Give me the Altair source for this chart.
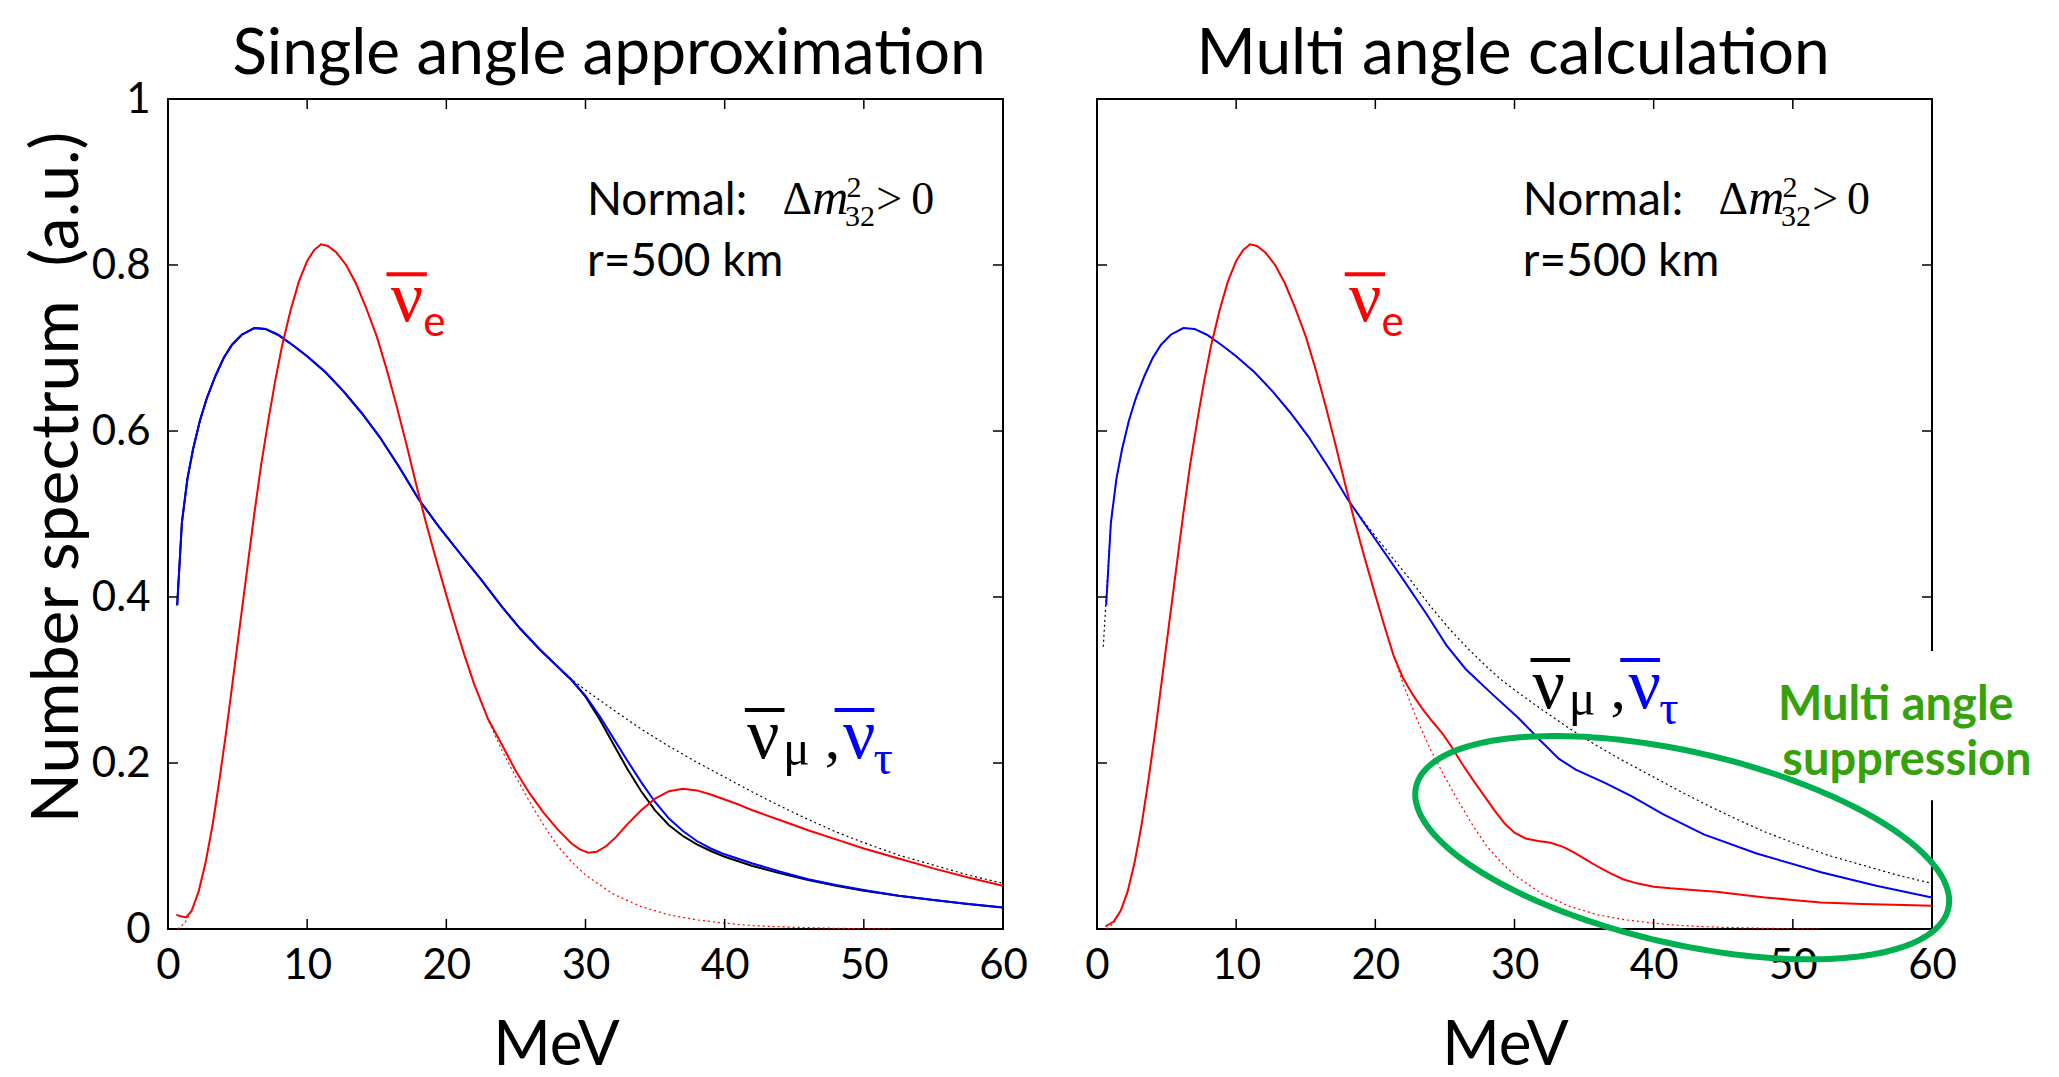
import math
import altair as alt
import pandas as pd

# ---------------- spectra ----------------
# original (un-oscillated) anti-nu_e spectrum, red dotted, same in both panels
RED0_E = [0.7, 1.2, 1.7, 2.2, 2.7, 3.2, 3.7, 4.2, 4.7, 5.2, 5.7, 6.2, 6.7, 7.2, 7.7,
          8.2, 8.8, 9.4, 10.0, 10.5, 11.0, 11.5, 12.1, 12.8, 13.5, 14.2, 15.0, 15.7,
          16.4, 17.1, 17.8, 18.5, 19.2, 19.9, 20.6, 21.3, 22.0, 23.0, 24.0, 25.0,
          26.0, 27.0, 28.0, 29.0, 30.0, 32.0, 34.0, 36.0, 38.0, 40.0, 42.0, 45.0,
          48.0, 52.0]
RED0_V = [0.0, 0.007, 0.022, 0.045, 0.08, 0.125, 0.18, 0.24, 0.305, 0.37, 0.435,
          0.5, 0.56, 0.612, 0.66, 0.703, 0.745, 0.78, 0.805, 0.818, 0.825, 0.823,
          0.815, 0.8, 0.778, 0.75, 0.714, 0.675, 0.632, 0.586, 0.538, 0.492, 0.449,
          0.408, 0.368, 0.33, 0.295, 0.252, 0.215, 0.183, 0.153, 0.125, 0.1, 0.081,
          0.065, 0.042, 0.027, 0.017, 0.011, 0.007, 0.004, 0.002, 0.0008, 0.0]

# original anti-nu_x spectrum, black dotted
BLACK0_E = [0.66, 1.0, 1.4, 1.8, 2.3, 2.8, 3.4, 4.0, 4.6, 5.3, 6.2, 7.0, 7.9, 9.0,
            10.0, 11.3, 12.6, 13.9, 15.2, 16.6, 18.0, 19.5, 21.1, 22.5, 24.0, 25.3,
            26.7, 28.0, 29.0, 30.0, 32.0, 34.0, 36.0, 38.0, 40.0, 42.0, 44.0, 46.0,
            48.0, 50.0, 52.5, 55.0, 57.5, 60.0]
BLACK0_V = [0.39, 0.49, 0.543, 0.578, 0.613, 0.64, 0.666, 0.688, 0.704, 0.716,
            0.724, 0.723, 0.716, 0.703, 0.69, 0.671, 0.648, 0.622, 0.593, 0.557,
            0.518, 0.484, 0.45, 0.421, 0.388, 0.362, 0.337, 0.316, 0.301, 0.288,
            0.264, 0.241, 0.22, 0.201, 0.183, 0.165, 0.148, 0.132, 0.117, 0.104,
            0.089, 0.077, 0.065, 0.055]

# multi-angle panel black dotted starts a little lower
MA_BLACK0_E = [0.45, 0.7, 1.0, 1.4, 1.8, 2.3, 2.8, 3.4, 4.0, 4.6, 5.3, 6.2, 7.0,
               7.9, 9.0, 10.0, 11.3, 12.6, 13.9, 15.2, 16.6, 18.0, 19.5, 21.1, 22.5,
               24.0, 25.3, 26.7, 28.0, 29.0, 30.0, 32.0, 34.0, 36.0, 38.0, 40.0,
               42.0, 44.0, 46.0, 48.0, 50.0, 52.5, 55.0, 57.5, 60.0]
MA_BLACK0_V = [0.34, 0.41, 0.49, 0.543, 0.578, 0.613, 0.64, 0.666, 0.688, 0.704,
               0.716, 0.724, 0.723, 0.716, 0.703, 0.69, 0.671, 0.648, 0.622, 0.593,
               0.557, 0.518, 0.484, 0.45, 0.421, 0.388, 0.362, 0.337, 0.316, 0.301,
               0.288, 0.264, 0.241, 0.22, 0.201, 0.183, 0.165, 0.148, 0.132, 0.117,
               0.104, 0.089, 0.077, 0.065, 0.055]

# single angle approximation: solid curves
SA_RED_E = [0.6, 1.0, 1.3, 1.7, 2.2, 2.7, 3.2, 3.7, 4.2, 4.7, 5.2, 5.7, 6.2, 6.7,
            7.2, 7.7, 8.2, 8.8, 9.4, 10.0, 10.5, 11.0, 11.5, 12.1, 12.8, 13.5, 14.2,
            15.0, 15.7, 16.4, 17.1, 17.8, 18.5, 19.2, 19.9, 20.6, 21.3, 22.0, 23.0,
            24.0, 25.0, 26.0, 27.0, 28.0, 29.0, 29.6, 30.2, 30.8, 31.5, 32.2, 33.0,
            34.0, 35.0, 36.0, 37.0, 38.0, 39.0, 40.0, 41.0, 42.0, 44.0, 46.0, 48.0,
            50.0, 52.5, 55.0, 57.5, 60.0]
SA_RED_V = [0.017, 0.015, 0.014, 0.022, 0.045, 0.08, 0.125, 0.18, 0.24, 0.305,
            0.37, 0.435, 0.5, 0.56, 0.612, 0.66, 0.703, 0.745, 0.78, 0.805, 0.818,
            0.825, 0.823, 0.815, 0.8, 0.778, 0.75, 0.714, 0.675, 0.632, 0.586, 0.538,
            0.492, 0.449, 0.408, 0.368, 0.33, 0.295, 0.253, 0.222, 0.19, 0.163, 0.14,
            0.12, 0.103, 0.096, 0.092, 0.093, 0.1, 0.111, 0.126, 0.143, 0.157, 0.166,
            0.169, 0.167, 0.162, 0.156, 0.15, 0.143, 0.131, 0.119, 0.108, 0.097,
            0.085, 0.073, 0.062, 0.052]

SA_BLUE_E = [0.66, 1.0, 1.4, 1.8, 2.3, 2.8, 3.4, 4.0, 4.6, 5.3, 6.2, 7.0, 7.9, 9.0,
             10.0, 11.3, 12.6, 13.9, 15.2, 16.6, 18.0, 19.5, 21.1, 22.5, 24.0, 25.3,
             26.7, 28.0, 29.0, 30.0, 31.0, 32.0, 33.0, 34.0, 35.0, 36.0, 37.0, 38.0,
             39.0, 40.0, 42.0, 44.0, 46.0, 48.0, 50.0, 52.5, 55.0, 57.5, 60.0]
SA_BLUE_V = [0.39, 0.49, 0.543, 0.578, 0.613, 0.64, 0.666, 0.688, 0.704, 0.716,
             0.724, 0.723, 0.716, 0.703, 0.69, 0.671, 0.648, 0.622, 0.593, 0.557,
             0.518, 0.484, 0.45, 0.421, 0.388, 0.362, 0.337, 0.316, 0.3, 0.281,
             0.257, 0.23, 0.203, 0.177, 0.153, 0.133, 0.118, 0.106, 0.097, 0.09,
             0.079, 0.069, 0.06, 0.053, 0.047, 0.04, 0.035, 0.03, 0.026]

SA_BLACK_E = [0.66, 1.0, 1.4, 1.8, 2.3, 2.8, 3.4, 4.0, 4.6, 5.3, 6.2, 7.0, 7.9, 9.0,
              10.0, 11.3, 12.6, 13.9, 15.2, 16.6, 18.0, 19.5, 21.1, 22.5, 24.0, 25.3,
              26.7, 28.0, 29.0, 30.0, 31.0, 32.0, 33.0, 34.0, 35.0, 36.0, 37.0, 38.0,
              39.0, 40.0, 42.0, 44.0, 46.0, 48.0, 50.0, 52.5, 55.0, 57.5, 60.0]
SA_BLACK_V = [0.39, 0.49, 0.543, 0.578, 0.613, 0.64, 0.666, 0.688, 0.704, 0.716,
              0.724, 0.723, 0.716, 0.703, 0.69, 0.671, 0.648, 0.622, 0.593, 0.557,
              0.518, 0.484, 0.45, 0.421, 0.388, 0.362, 0.337, 0.316, 0.3, 0.28,
              0.253, 0.223, 0.193, 0.166, 0.143, 0.125, 0.112, 0.102, 0.094, 0.087,
              0.076, 0.067, 0.059, 0.052, 0.046, 0.04, 0.035, 0.03, 0.026]

# multi angle calculation: solid curves
MA_RED_E = [0.6, 1.2, 1.7, 2.2, 2.7, 3.2, 3.7, 4.2, 4.7, 5.2, 5.7, 6.2, 6.7, 7.2,
            7.7, 8.2, 8.8, 9.4, 10.0, 10.5, 11.0, 11.5, 12.1, 12.8, 13.5, 14.2, 15.0,
            15.7, 16.4, 17.1, 17.8, 18.5, 19.2, 19.9, 20.6, 21.3, 22.0, 22.7, 23.4,
            24.1, 24.8, 25.5, 26.2, 27.0, 27.8, 28.6, 29.3, 30.0, 30.8, 31.7, 32.6,
            33.5, 34.3, 35.2, 36.0, 36.9, 37.8, 38.8, 40.0, 41.2, 42.8, 44.5, 46.0,
            48.0, 50.0, 52.0, 55.0, 58.0, 60.0]
MA_RED_V = [0.003, 0.009, 0.022, 0.045, 0.08, 0.125, 0.18, 0.24, 0.305, 0.37,
            0.435, 0.5, 0.56, 0.612, 0.66, 0.703, 0.745, 0.78, 0.805, 0.818, 0.825,
            0.823, 0.815, 0.8, 0.778, 0.75, 0.714, 0.675, 0.632, 0.586, 0.538, 0.492,
            0.449, 0.408, 0.368, 0.33, 0.302, 0.282, 0.265, 0.25, 0.236, 0.219, 0.2,
            0.18, 0.161, 0.142, 0.127, 0.116, 0.109, 0.106, 0.104, 0.099, 0.092,
            0.083, 0.075, 0.067, 0.06, 0.055, 0.051, 0.049, 0.047, 0.045, 0.042,
            0.038, 0.035, 0.032, 0.03, 0.029, 0.028]

MA_BLUE_E = [0.66, 1.0, 1.4, 1.8, 2.3, 2.8, 3.4, 4.0, 4.6, 5.3, 6.2, 7.0, 7.9, 9.0,
             10.0, 11.3, 12.6, 13.9, 15.2, 16.6, 18.0, 19.9, 21.8, 23.7, 25.1, 26.5,
             28.4, 30.3, 31.8, 33.2, 34.4, 36.5, 38.4, 40.7, 43.6, 47.4, 52.1, 56.0,
             60.0]
MA_BLUE_V = [0.39, 0.49, 0.543, 0.578, 0.613, 0.64, 0.666, 0.688, 0.704, 0.716,
             0.724, 0.723, 0.716, 0.703, 0.69, 0.671, 0.648, 0.622, 0.593, 0.557,
             0.518, 0.472, 0.426, 0.379, 0.342, 0.313, 0.283, 0.254, 0.228, 0.205,
             0.192, 0.176, 0.16, 0.138, 0.114, 0.091, 0.068, 0.052, 0.038]

# axes
X_DOMAIN = [0, 60]
Y_DOMAIN = [0, 1]
X_LABEL_VALUES = [0, 10, 20, 30, 40, 50, 60]
Y_LABEL_VALUES = [0, 0.2, 0.4, 0.6, 0.8, 1]
X_INNER_TICKS = [10, 20, 30, 40, 50]
Y_INNER_TICKS = [0.2, 0.4, 0.6, 0.8]

X_TITLE = "MeV"
Y_TITLE = "Number spectrum\u00a0 (a.u.)"

# ---------------- annotations (data coordinates) ----------------
PANEL_TITLES = {
    "left": [(31.69, 1.0301, "Single angle approximation")],
    "right": [(29.9, 1.0301, "Multi angle calculation")],
}
ANN = {
    "left": {
        "sans": [(30.1, 0.86, "Normal:"), (30.1, 0.787, "r=500 km")],
        "math": [(44.15, 0.862, "\u0394"), (50.9, 0.862, ">"), (53.4, 0.862, "0")],
        "math_it": [(46.3, 0.862, "m")],
        "math_small": [(48.75, 0.882, "2"), (48.65, 0.8465, "32")],
        "nu_e": [(16.0, 0.733, "\u03bd")], "bar_e": [(15.7, 18.6, 0.789)],
        "sub_e": [(18.35, 0.715, "e")],
        "nu_mu": [(41.6, 0.206, "\u03bd")], "bar_mu": [(41.45, 44.3, 0.264)],
        "sub_mu": [(44.2, 0.198, "\u03bc")], "comma": [(47.2, 0.206, ",")],
        "nu_tau": [(48.5, 0.206, "\u03bd")], "bar_tau": [(47.9, 50.75, 0.264)],
        "sub_tau": [(50.7, 0.187, "\u03c4")],
    },
    "right": {
        "sans": [(30.6, 0.86, "Normal:"), (30.6, 0.787, "r=500 km")],
        "math": [(44.65, 0.862, "\u0394"), (51.4, 0.862, ">"), (53.9, 0.862, "0")],
        "math_it": [(46.8, 0.862, "m")],
        "math_small": [(49.25, 0.882, "2"), (49.15, 0.8465, "32")],
        "nu_e": [(18.1, 0.733, "\u03bd")], "bar_e": [(17.8, 20.7, 0.789)],
        "sub_e": [(20.45, 0.715, "e")],
        "nu_mu": [(31.3, 0.266, "\u03bd")], "bar_mu": [(31.15, 34.0, 0.324)],
        "sub_mu": [(33.9, 0.258, "\u03bc")], "comma": [(36.9, 0.266, ",")],
        "nu_tau": [(38.2, 0.266, "\u03bd")], "bar_tau": [(37.6, 40.45, 0.324)],
        "sub_tau": [(40.4, 0.247, "\u03c4")],
    },
}
GREEN_NOTE = [(57.4, 0.252, "Multi angle"), (58.2, 0.185, "suppression")]
BORDER_MASK = [(59.3, 60.7, 0.155, 0.335)]
ELLIPSE_CENTER = (42.05, 0.098)   # data units
ELLIPSE_AXES_PX = (273, 96)       # semi-axes in pixels
ELLIPSE_ROT_DEG = 12.9

# ---------------- style ----------------
PANEL_W, PANEL_H = 835, 830
SPACING = 54
FONT = "Lato"
SERIF = "Liberation Serif"
RED, BLUE, BLACK = "#ff0000", "#0000ff", "#000000"
GREEN_LINE, GREEN_TEXT = "#00b050", "#35a20c"
LABEL_SIZE = 42

xs = alt.Scale(domain=X_DOMAIN, nice=False, zero=False)
ys = alt.Scale(domain=Y_DOMAIN, nice=False, zero=False)


def enc(chart, xaxis=alt.Undefined, yaxis=alt.Undefined, **extra):
    return chart.encode(x=alt.X("E:Q", scale=xs, axis=xaxis),
                        y=alt.Y("v:Q", scale=ys, axis=yaxis), **extra)


def line(E, V, color, width, dash=None, xaxis=alt.Undefined, yaxis=alt.Undefined):
    df = pd.DataFrame({"E": E, "v": V})
    props = dict(color=color, strokeWidth=width, clip=True)
    if dash is not None:
        props["strokeDash"] = dash
    return enc(alt.Chart(df).mark_line(**props), xaxis, yaxis)


def text(items, font, size, color, style="normal", weight="normal", align="left"):
    df = pd.DataFrame(items, columns=["E", "v", "t"])
    mk = alt.Chart(df).mark_text(align=align, baseline="alphabetic", font=font,
                                 fontSize=size, color=color, fontStyle=style,
                                 fontWeight=weight)
    return enc(mk, text="t:N")


def bars(items, color):
    df = pd.DataFrame(items, columns=["E", "E2", "v"])
    return enc(alt.Chart(df).mark_rule(color=color, strokeWidth=4), x2="E2:Q")


def ticks():
    bt = pd.DataFrame({"E": X_INNER_TICKS * 2,
                       "v": [Y_DOMAIN[0]] * len(X_INNER_TICKS) + [Y_DOMAIN[1]] * len(X_INNER_TICKS)})
    lr = pd.DataFrame({"E": [X_DOMAIN[0]] * len(Y_INNER_TICKS) + [X_DOMAIN[1]] * len(Y_INNER_TICKS),
                       "v": Y_INNER_TICKS * 2})
    t1 = enc(alt.Chart(bt).mark_tick(orient="vertical", size=20, thickness=1.5,
                                     color=BLACK, clip=True, opacity=1))
    t2 = enc(alt.Chart(lr).mark_tick(orient="horizontal", size=20, thickness=1.5,
                                     color=BLACK, clip=True, opacity=1))
    return [t1, t2]


def x_axis(title_x):
    return alt.Axis(values=X_LABEL_VALUES, ticks=False, domain=False, grid=False,
                    labelFont=FONT, labelFontSize=LABEL_SIZE, labelColor=BLACK,
                    labelPadding=16, labelFlush=False, labelOverlap=False, labelAngle=0,
                    title=X_TITLE, titleFont=FONT, titleFontSize=62,
                    titleFontWeight="normal", titleColor=BLACK, titleX=title_x,
                    titleY=135, titleBaseline="alphabetic", titleAlign="center",
                    titleAngle=0)


Y_AXIS = alt.Axis(values=Y_LABEL_VALUES, format="~g", ticks=False, domain=False,
                  grid=False, labelFont=FONT, labelFontSize=LABEL_SIZE, labelColor=BLACK,
                  labelPadding=18, labelFlush=False, labelOverlap=False,
                  title=Y_TITLE, titleFont=FONT, titleFontSize=66,
                  titleFontWeight="normal", titleColor=BLACK, titleAngle=270,
                  titleX=-91, titleY=378, titleBaseline="alphabetic",
                  titleAlign="center")


def annotations(a):
    return [
        text(a["sans"], FONT, 46, BLACK),
        text(a["math"], SERIF, 46, BLACK),
        text(a["math_it"], SERIF, 50, BLACK, style="italic"),
        text(a["math_small"], SERIF, 30, BLACK),
        text(a["nu_e"], SERIF, 72, RED),
        bars(a["bar_e"], RED),
        text(a["sub_e"], FONT, 42, RED),
        text(a["nu_mu"], SERIF, 72, BLACK),
        bars(a["bar_mu"], BLACK),
        text(a["sub_mu"], SERIF, 50, BLACK),
        text(a["comma"], SERIF, 62, BLACK),
        text(a["nu_tau"], SERIF, 72, BLUE),
        bars(a["bar_tau"], BLUE),
        text(a["sub_tau"], SERIF, 48, BLUE),
    ]


def panel_title(items):
    return text(items, FONT, 64, BLACK, align="center")


# ellipse outline (annotation shape) in data units
cx, cy = ELLIPSE_CENTER
ea, eb = ELLIPSE_AXES_PX
th = math.radians(ELLIPSE_ROT_DEG)
ell_rows = []
for k in range(181):
    ph = 2 * math.pi * k / 180
    dx = ea * math.cos(ph) * math.cos(th) - eb * math.sin(ph) * math.sin(th)
    dy = ea * math.cos(ph) * math.sin(th) + eb * math.sin(ph) * math.cos(th)
    ell_rows.append({"i": k, "E": cx + dx / (PANEL_W / (X_DOMAIN[1] - X_DOMAIN[0])),
                     "v": cy - dy / (PANEL_H / (Y_DOMAIN[1] - Y_DOMAIN[0]))})
ellipse = enc(alt.Chart(pd.DataFrame(ell_rows)).mark_line(
    color=GREEN_LINE, strokeWidth=6, clip=False), order="i:Q")

mask = enc(alt.Chart(pd.DataFrame(BORDER_MASK, columns=["E", "E2", "v", "v2"]))
           .mark_rect(color="white", opacity=1), x2="E2:Q", y2="v2:Q")

DOT = [2, 3]

left = alt.layer(
    line(BLACK0_E, BLACK0_V, BLACK, 1.2, DOT, xaxis=x_axis(388), yaxis=Y_AXIS),
    line(RED0_E, RED0_V, RED, 1.2, DOT),
    line(SA_BLACK_E, SA_BLACK_V, BLACK, 2),
    line(SA_BLUE_E, SA_BLUE_V, BLUE, 2),
    line(SA_RED_E, SA_RED_V, RED, 2),
    *ticks(),
    *annotations(ANN["left"]),
    panel_title(PANEL_TITLES["left"]),
).properties(width=PANEL_W, height=PANEL_H)

right = alt.layer(
    line(MA_BLACK0_E, MA_BLACK0_V, BLACK, 1.2, DOT, xaxis=x_axis(408), yaxis=None),
    line(RED0_E, RED0_V, RED, 1.2, DOT),
    line(MA_BLUE_E, MA_BLUE_V, BLUE, 2),
    line(MA_RED_E, MA_RED_V, RED, 2),
    *ticks(),
    mask,
    ellipse,
    text(GREEN_NOTE, FONT, 47, GREEN_TEXT, weight="bold", align="center"),
    *annotations(ANN["right"]),
    panel_title(PANEL_TITLES["right"]),
).properties(width=PANEL_W, height=PANEL_H)

chart = alt.hconcat(left, right, spacing=SPACING).properties(
    padding={"left": 14, "top": 14, "right": 2, "bottom": 0}
).configure(font=FONT).configure_view(stroke=BLACK, strokeWidth=2)

chart.save("out.html", embed_options={"renderer": "svg", "actions": False})
